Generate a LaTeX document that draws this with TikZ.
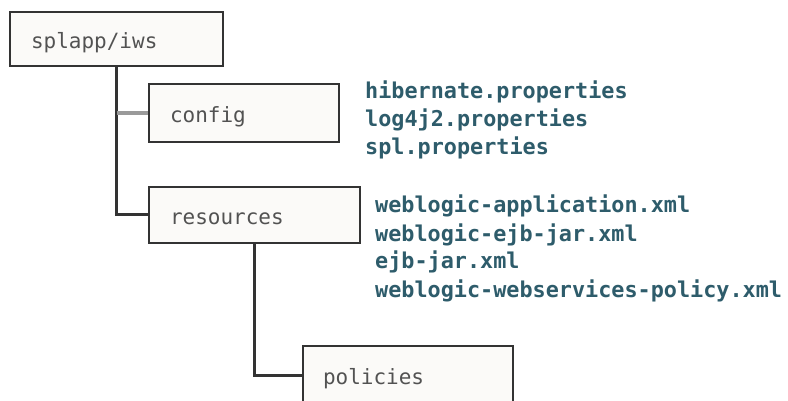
\documentclass[tikz,border=0pt]{standalone}
\usepackage{fontspec}
\setmonofont{DejaVu Sans Mono}
\definecolor{boxline}{HTML}{333333}
\definecolor{boxfill}{HTML}{FBFAF8}
\definecolor{filetext}{HTML}{2E5C6B}
\definecolor{branchgray}{HTML}{9A9A9A}
\begin{document}
\begin{tikzpicture}[x=1pt, y=-1pt,
    dir/.style={draw=boxline, line width=2pt, fill=boxfill, text=boxline!85,
      anchor=north west, inner xsep=0pt, align=left, text height=19pt, text depth=0pt,
      font=\ttfamily\fontsize{21}{21}\selectfont},
    file/.style={anchor=base west, inner sep=0pt, text=filetext,
      font=\ttfamily\bfseries\fontsize{21.8}{21.8}\selectfont},
    link/.style={draw=boxline, line width=3pt}]
    \clip (0, 0) rectangle (788, 401);
    \fill[white] (0, 0) rectangle (788, 401);
    % folders
    \node[dir, minimum width=213, minimum height=54, text width=213] (root) at (9, 11) {\hspace*{21pt}splapp/iws};
    \node[dir, minimum width=190, minimum height=58, text width=190] (cfg) at (148, 83) {\hspace*{21pt}config};
    \node[dir, minimum width=211, minimum height=56, text width=211] (res) at (148, 186) {\hspace*{21pt}resources};
    \node[dir, minimum width=210, minimum height=58, text width=210] (pol) at (302, 345) {\hspace*{20pt}policies};
    % tree lines
    \draw[link] (root.south) |- (res.west);
    \draw[link, draw=branchgray, line width=3.5pt] (root.south |- cfg.west) -- (cfg.west);
    \draw[link] (res.south) |- (pol.west);
    % files
    \foreach \f [count=\i] in {hibernate.properties, log4j2.properties, spl.properties}
      \node[file] (cfgfile\i) at (365, 71 + 28*\i) {\f};
    \foreach \f [count=\i] in {weblogic-application.xml, weblogic-ejb-jar.xml, ejb-jar.xml, weblogic-webservices-policy.xml}
      \node[file] (resfile\i) at (375, 185 + 28*\i) {\f};
  \end{tikzpicture}
\end{document}
